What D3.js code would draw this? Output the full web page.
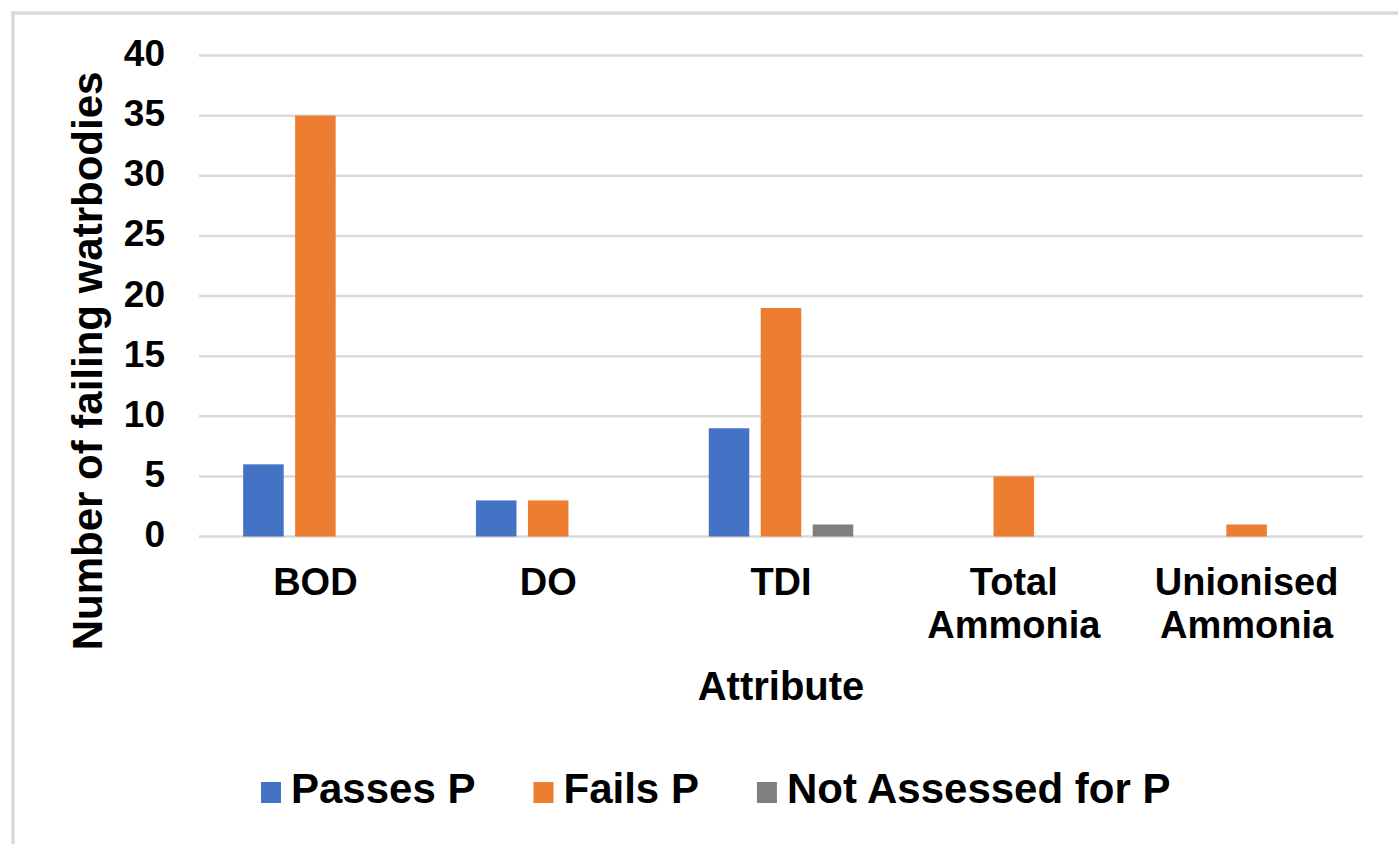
<!DOCTYPE html>
<html lang="en">
<head>
    <meta charset="UTF-8">
    <title>Failing waterbodies by attribute</title>
    <script src="https://cdnjs.cloudflare.com/ajax/libs/d3/7.8.5/d3.min.js"></script>
    <style>
        body { margin: 0; background: #fff; }
        text { font-family: "Liberation Sans", Arial, sans-serif; font-weight: bold; fill: #000; }
    </style>
</head>
<body>
    <div id='graph'></div>

    <script>
    // data
    let categories = [["BOD"], ["DO"], ["TDI"], ["Total", "Ammonia"], ["Unionised", "Ammonia"]];
    let seriesNames = ["Passes P", "Fails P", "Not Assessed for P"];
    let passes = [6, 3, 9, 0, 0];
    let fails = [35, 3, 19, 5, 1];
    let notAssessed = [0, 0, 1, 0, 0];
    let yTicks = [0, 5, 10, 15, 20, 25, 30, 35, 40];

    let colors = ["#4472C4", "#ED7D31", "#7F7F7F"];
    let allSeries = [passes, fails, notAssessed];

    let width = 1398;
    let height = 844;
    let plotLeft = 199, plotRight = 1363, plotTop = 55.5, plotBottom = 536.5;

    let svg = d3.select('#graph')
        .append('svg')
        .attr('width', width)
        .attr('height', height);

    svg.append('rect')
        .attr('width', width).attr('height', height)
        .attr('fill', '#fff');

    // outer chart frame (right and bottom edges fall outside the picture)
    svg.append('rect')
        .attr('x', 13).attr('y', 13)
        .attr('width', 1420).attr('height', 860)
        .attr('fill', 'none')
        .attr('stroke', '#D9D9D9')
        .attr('stroke-width', 3.5);

    let catKeys = categories.map(c => c.join(' '));

    let x0 = d3.scaleBand()
        .domain(catKeys)
        .range([plotLeft, plotRight]);

    let groupW = 144.5;
    let x1 = d3.scaleBand()
        .domain(seriesNames)
        .range([(x0.bandwidth() - groupW) / 2, (x0.bandwidth() + groupW) / 2])
        .paddingInner(0.22);

    let y = d3.scaleLinear()
        .domain([0, 40])
        .range([plotBottom, plotTop]);

    // gridlines
    svg.append('g')
        .selectAll('line')
        .data(yTicks)
        .enter()
        .append('line')
        .attr('x1', plotLeft).attr('x2', plotRight)
        .attr('y1', d => y(d)).attr('y2', d => y(d))
        .attr('stroke', '#D9D9D9')
        .attr('stroke-width', 2.5);

    // y axis labels
    let yAxis = d3.axisLeft(y).tickValues(yTicks).tickSize(0).tickPadding(0);
    let gy = svg.append('g')
        .attr('transform', 'translate(165,0)')
        .call(yAxis);
    gy.select('.domain').remove();
    gy.selectAll('text')
        .attr('font-size', '37px')
        .attr('dy', null)
        .attr('y', 10)
        .style('font-family', '"Liberation Sans", Arial, sans-serif')
        .style('font-weight', 'bold')
        .attr('fill', '#000');

    // bars
    let rows = catKeys.map((k, i) => ({ key: k, vals: allSeries.map((s, j) => ({ name: seriesNames[j], v: s[i], c: colors[j] })) }));

    let groups = svg.append('g')
        .selectAll('g')
        .data(rows)
        .enter()
        .append('g')
        .attr('transform', d => 'translate(' + x0(d.key) + ',0)');

    groups.selectAll('rect')
        .data(d => d.vals.filter(v => v.v > 0))
        .enter()
        .append('rect')
        .attr('x', d => x1(d.name))
        .attr('y', d => y(d.v))
        .attr('width', x1.bandwidth())
        .attr('height', d => y(0) - y(d.v))
        .attr('fill', d => d.c);

    // category labels
    let catText = svg.append('g')
        .selectAll('text')
        .data(categories)
        .enter()
        .append('text')
        .attr('x', (d, i) => x0(catKeys[i]) + x0.bandwidth() / 2)
        .attr('y', 595)
        .attr('text-anchor', 'middle')
        .attr('font-size', '38px');

    catText.selectAll('tspan')
        .data(d => d)
        .enter()
        .append('tspan')
        .attr('x', function () { return d3.select(this.parentNode).attr('x'); })
        .attr('dy', (d, i) => i === 0 ? 0 : 43)
        .text(d => d);

    // axis titles
    svg.append('text')
        .attr('x', 781)
        .attr('y', 700)
        .attr('text-anchor', 'middle')
        .attr('font-size', '40px')
        .text('Attribute');

    svg.append('text')
        .attr('transform', 'translate(102,361) rotate(-90)')
        .attr('text-anchor', 'middle')
        .attr('font-size', '42px')
        .text('Number of failing watrbodies');

    // legend
    let legend = svg.append('g');
    let lx = 261;
    seriesNames.forEach((name, i) => {
        legend.append('rect')
            .attr('x', lx).attr('y', 782)
            .attr('width', 20).attr('height', 21)
            .attr('fill', colors[i]);
        let t = legend.append('text')
            .attr('x', lx + 30)
            .attr('y', 803)
            .attr('font-size', '42px')
            .text(name);
        lx += 30 + t.node().getComputedTextLength() + 58;
    });
    </script>
</body>
</html>
